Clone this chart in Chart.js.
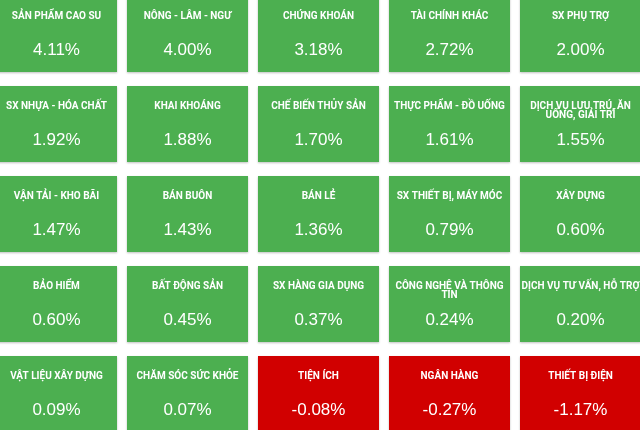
<!DOCTYPE html>
<html lang="vi">
<head>
<meta charset="UTF-8" />
<title>Sector heatmap</title>
<script src="https://cdn.jsdelivr.net/npm/chart.js"></script>
<style>
  html, body { margin: 0; padding: 0; background: #fff; overflow: hidden; }
  body { width: 640px; height: 430px; position: relative; }
  .chart-container { position: absolute; left: -9px; top: -4px; width: 655px; height: 450px; }
</style>
</head>
<body>
<div class="chart-container">
  <canvas id="tile-chart"></canvas>
</div>
<script>
  // sector names, read left to right, top to bottom
  const sectors = [
    'SẢN PHẨM CAO SU', 'NÔNG - LÂM - NGƯ', 'CHỨNG KHOÁN', 'TÀI CHÍNH KHÁC', 'SX PHỤ TRỢ',
    'SX NHỰA - HÓA CHẤT', 'KHAI KHOÁNG', 'CHẾ BIẾN THỦY SẢN', 'THỰC PHẨM - ĐỒ UỐNG', 'DỊCH VỤ LƯU TRÚ, ĂN UỐNG, GIẢI TRÍ',
    'VẬN TẢI - KHO BÃI', 'BÁN BUÔN', 'BÁN LẺ', 'SX THIẾT BỊ, MÁY MÓC', 'XÂY DỰNG',
    'BẢO HIỂM', 'BẤT ĐỘNG SẢN', 'SX HÀNG GIA DỤNG', 'CÔNG NGHỆ VÀ THÔNG TIN', 'DỊCH VỤ TƯ VẤN, HỖ TRỢ',
    'VẬT LIỆU XÂY DỰNG', 'CHĂM SÓC SỨC KHỎE', 'TIỆN ÍCH', 'NGÂN HÀNG', 'THIẾT BỊ ĐIỆN'
  ]
  // % change
  const changes = [
    4.11, 4.00, 3.18, 2.72, 2.00,
    1.92, 1.88, 1.70, 1.61, 1.55,
    1.47, 1.43, 1.36, 0.79, 0.60,
    0.60, 0.45, 0.37, 0.24, 0.20,
    0.09, 0.07, -0.08, -0.27, -1.17
  ]
  const columns = ['c1', 'c2', 'c3', 'c4', 'c5']

  const UP = '#4caf50'
  const DOWN = '#d10000'
  const rowCount = Math.ceil(sectors.length / columns.length)
  const fill = 76 / 90 // tile height inside a row slot

  const datasets = []
  for (let r = 0; r < rowCount; r++) {
    let idx = columns.map((c, i) => r * columns.length + i)
    datasets.push({
      label: 'row ' + (r + 1),
      data: idx.map(i => [r, r + fill]),
      backgroundColor: idx.map(i => changes[i] >= 0 ? UP : DOWN),
      borderWidth: 0,
      grouped: false,
      categoryPercentage: 1,
      barPercentage: 121 / 131,
      tileIndex: idx
    })
  }

  function wrap(ctx, text, maxW) {
    let words = text.split(' ')
    let lines = []
    let cur = ''
    for (let w of words) {
      let test = cur ? cur + ' ' + w : w
      if (cur && ctx.measureText(test).width > maxW) {
        lines.push(cur)
        cur = w
      } else {
        cur = test
      }
    }
    if (cur) lines.push(cur)
    return lines
  }

  const tileText = {
    id: 'tileText',
    beforeDatasetsDraw(chart) {
      let ctx = chart.ctx
      ctx.save()
      ctx.shadowColor = 'rgba(0,0,0,0.25)'
      ctx.shadowBlur = 2
      ctx.shadowOffsetY = 1
    },
    afterDatasetsDraw(chart) {
      let ctx = chart.ctx
      ctx.restore()
      ctx.save()
      ctx.fillStyle = '#ffffff'
      ctx.textAlign = 'center'
      ctx.textBaseline = 'alphabetic'
      chart.data.datasets.forEach((ds, d) => {
        chart.getDatasetMeta(d).data.forEach((bar, j) => {
          let i = ds.tileIndex[j]
          let top = Math.min(bar.y, bar.base)
          ctx.font = 'bold 10px Roboto, "Liberation Sans", sans-serif'
          let lines = wrap(ctx, sectors[i], bar.width - 2)
          lines.forEach((line, k) => {
            ctx.fillText(line, bar.x, top + 22.5 + k * 9)
          })
          ctx.font = '17px "Liberation Sans", Arial, sans-serif'
          let v = changes[i].toFixed(2) + '%'
          ctx.fillText(v, bar.x, top + 58.5)
        })
      })
      ctx.restore()
    }
  }

  new Chart(document.getElementById('tile-chart'), {
    type: 'bar',
    data: { labels: columns, datasets: datasets },
    options: {
      responsive: true,
      maintainAspectRatio: false,
      animation: false,
      layout: { padding: 0 },
      plugins: { legend: { display: false }, tooltip: { enabled: false } },
      scales: {
        x: { display: false, offset: true },
        y: { display: false, min: 0, max: rowCount, reverse: true }
      }
    },
    plugins: [tileText]
  })
</script>
</body>
</html>
